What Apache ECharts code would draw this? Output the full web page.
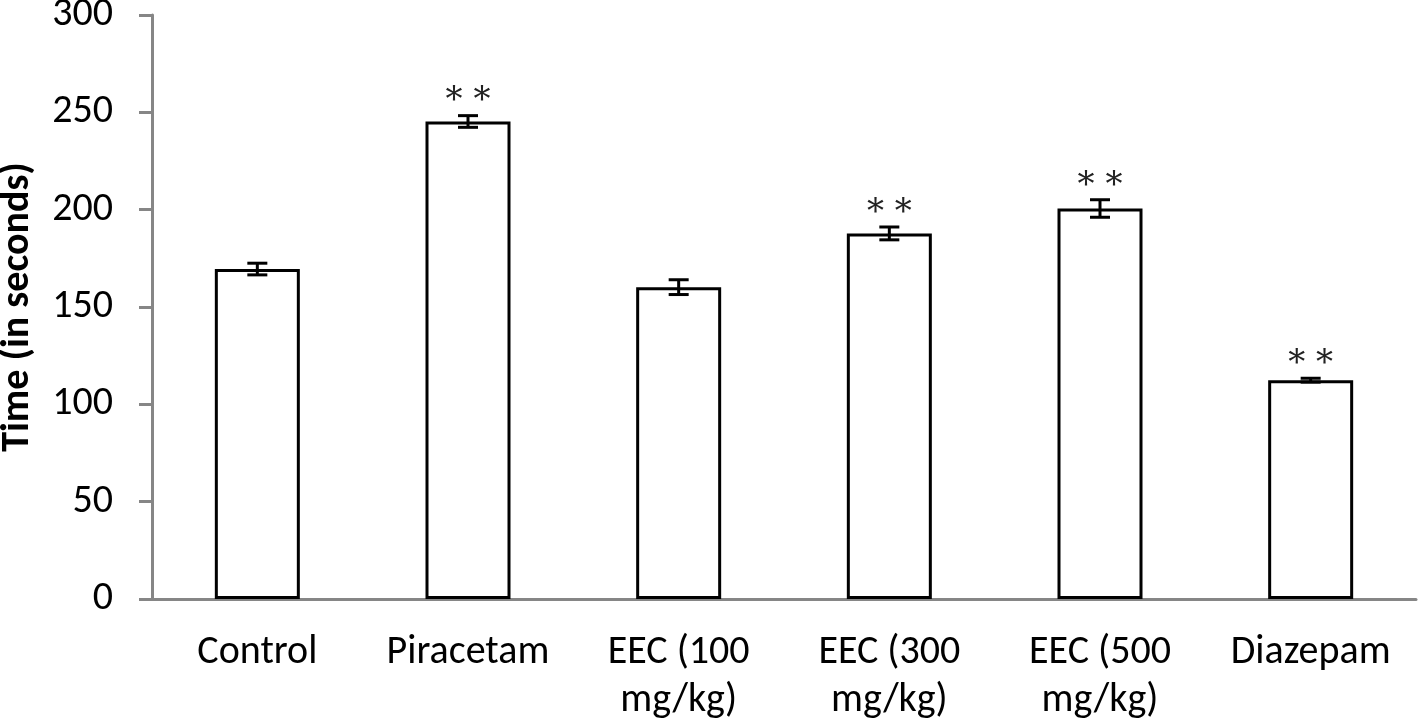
<!DOCTYPE html>
<html><head><meta charset="utf-8">
<script src="https://cdn.jsdelivr.net/npm/echarts@6/dist/echarts.min.js"></script>
<style>html,body{margin:0;padding:0;background:#fff}#c{width:1419px;height:721px}</style>
</head><body><div id="c"></div>
<script>
const categories = ["Control", "Piracetam", "EEC (100\nmg/kg)", "EEC (300\nmg/kg)", "EEC (500\nmg/kg)", "Diazepam"];
const means = [169.5, 245.3, 160.2, 187.8, 200.6, 112.4];
const errors = [3.0, 3.0, 3.8, 3.3, 4.5, 1.0];
const marks = ["", "**", "", "**", "**", "**"];
const yTicks = [0, 50, 100, 150, 200, 250, 300];

const chart = echarts.init(document.getElementById('c'), null, {renderer: 'canvas'});
const axisGray = '#868686';
const font = "Carlito, 'Open Sans', 'Noto Sans', sans-serif";
chart.setOption({
  animation: false,
  grid: {left: 152, right: 3, top: 15, bottom: 122, containLabel: false, outerBoundsMode: 'none'},
  xAxis: {
    type: 'category', data: categories,
    axisLine: {lineStyle: {color: axisGray, width: 3}},
    axisTick: {length: 12, lineStyle: {color: axisGray, width: 3}},
    axisLabel: {color: '#000', fontSize: 40, fontFamily: font, lineHeight: 48, margin: 30, interval: 0}
  },
  yAxis: {
    type: 'value', min: 0, max: 300, interval: 50,
    name: 'Time (in seconds)', nameLocation: 'middle', nameGap: 114,
    nameTextStyle: {color: '#000', fontSize: 40, fontWeight: 'bold', fontFamily: font},
    axisLine: {show: true, lineStyle: {color: axisGray, width: 3}},
    axisTick: {show: true, length: 13, lineStyle: {color: axisGray, width: 3}},
    splitLine: {show: false},
    axisLabel: {color: '#000', fontSize: 40, fontFamily: font, margin: 39,
      formatter: v => yTicks.includes(v) ? String(v) : ''}
  },
  series: [
    {
      type: 'bar', data: means, barWidth: 85,
      itemStyle: {color: '#fff', borderColor: '#000', borderWidth: 3}
    },
    {
      type: 'custom',
      data: means.map((m, i) => [i, m, errors[i]]),
      z: 10,
      renderItem: function (params, api) {
        const i = api.value(0), m = api.value(1), e = api.value(2);
        const hi = api.coord([i, m + e]);
        const lo = api.coord([i, m - e]);
        const x = hi[0], hw = 10;
        const children = [
          {type: 'line', shape: {x1: x, y1: hi[1], x2: x, y2: lo[1]}, style: {stroke: '#000', lineWidth: 3}},
          {type: 'line', shape: {x1: x - hw, y1: hi[1], x2: x + hw, y2: hi[1]}, style: {stroke: '#000', lineWidth: 3}},
          {type: 'line', shape: {x1: x - hw, y1: lo[1], x2: x + hw, y2: lo[1]}, style: {stroke: '#000', lineWidth: 3}}
        ];
        const t = marks[params.dataIndex];
        if (t) {
          children.push({type: 'text', style: {
            text: t.split('').join(' '), x: x, y: hi[1] - 14,
            align: 'center', verticalAlign: 'middle',
            fontSize: 34, fontFamily: "'DejaVu Serif', 'Liberation Serif', serif", fill: '#222'
          }});
        }
        return {type: 'group', children: children};
      }
    }
  ]
});
</script></body></html>
